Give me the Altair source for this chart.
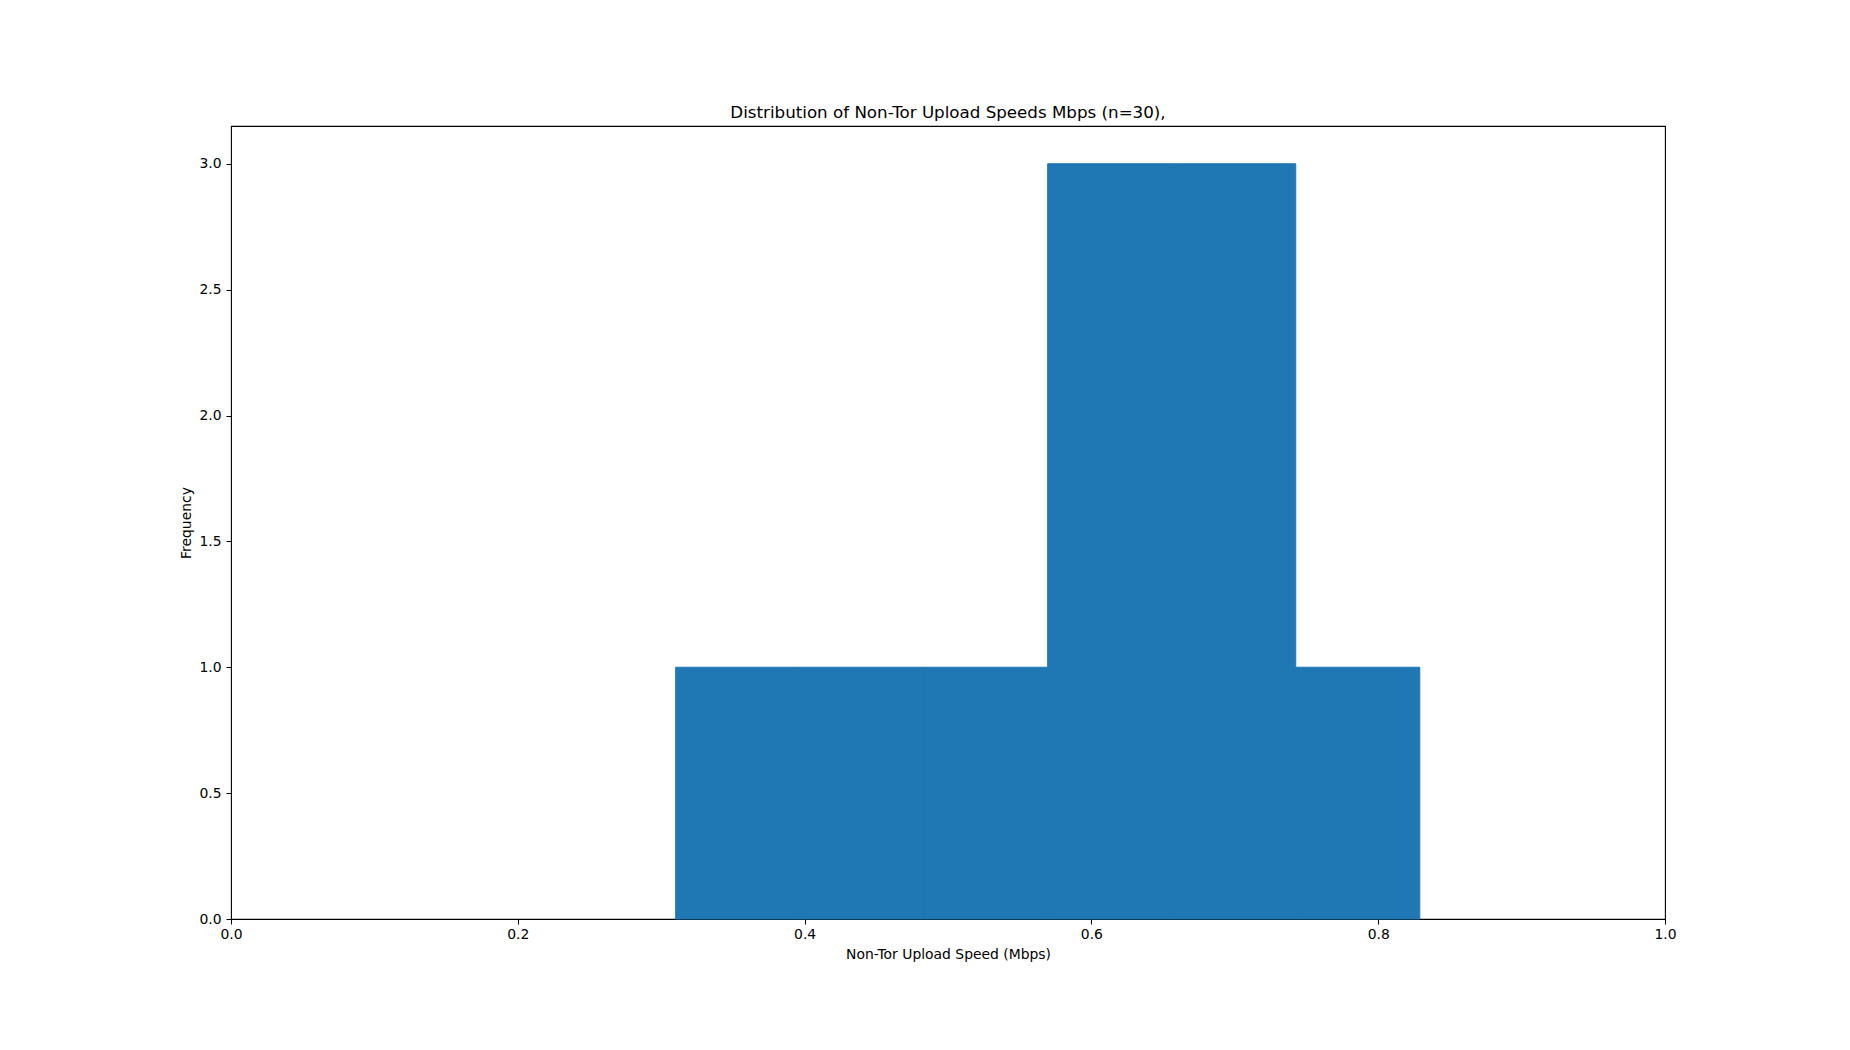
import altair as alt
import pandas as pd

# Histogram bins (6 equal-width bins) and counts
bin_start = [0.3101, 0.3966, 0.4830, 0.5695, 0.6560, 0.7425]
bin_end = [0.3966, 0.4830, 0.5695, 0.6560, 0.7425, 0.8290]
counts = [1, 1, 1, 3, 3, 1]

x_ticks = [0.0, 0.2, 0.4, 0.6, 0.8, 1.0]
y_ticks = [0.0, 0.5, 1.0, 1.5, 2.0, 2.5, 3.0]

df = pd.DataFrame({"start": bin_start, "end": bin_end, "count": counts})

FONT = "DejaVu Sans"
TICK_FS = 13.9
LABEL_FS = 13.9

chart = (
    alt.Chart(df)
    .mark_rect(color="#1f77b4", stroke="#1f77b4", strokeWidth=1)
    .encode(
        x=alt.X(
            "start:Q",
            scale=alt.Scale(domain=[0, 1], nice=False, zero=False),
            axis=alt.Axis(
                title="Non-Tor Upload Speed (Mbps)",
                values=x_ticks,
                format=".1f",
                grid=False,
                domain=False,
                tickSize=5,
                tickColor="black",
                labelPadding=3,
                labelFlush=False,
                labelColor="black",
                labelFontSize=TICK_FS,
                labelFont=FONT,
                titleFont=FONT,
                titleFontSize=LABEL_FS,
                titleFontWeight="normal",
                titleColor="black",
                titlePadding=7,
            ),
        ),
        x2="end:Q",
        y=alt.Y(
            "count:Q",
            scale=alt.Scale(domain=[0, 3.15], nice=False),
            axis=alt.Axis(
                title="Frequency",
                values=y_ticks,
                format=".1f",
                grid=False,
                domain=False,
                tickSize=5,
                tickColor="black",
                labelPadding=5,
                labelFlush=False,
                labelColor="black",
                labelFontSize=TICK_FS,
                labelFont=FONT,
                titleFont=FONT,
                titleFontSize=LABEL_FS,
                titleFontWeight="normal",
                titleColor="black",
                titlePadding=5,
            ),
        ),
        y2=alt.datum(0),
    )
    .properties(
        width=1434,
        height=793,
        title=alt.TitleParams(
            "Distribution of Non-Tor Upload Speeds Mbps (n=30),",
            font=FONT,
            fontSize=16.7,
            fontWeight="normal",
            color="black",
            anchor="middle",
            offset=4,
        ),
        autosize=alt.AutoSizeParams(type="none"),
        padding={"left": 223, "top": 118, "right": 177, "bottom": 123},
    )
    .configure_view(stroke="black", strokeWidth=1.1)
)

chart.save("out.html", embed_options={"renderer": "svg", "actions": False})
